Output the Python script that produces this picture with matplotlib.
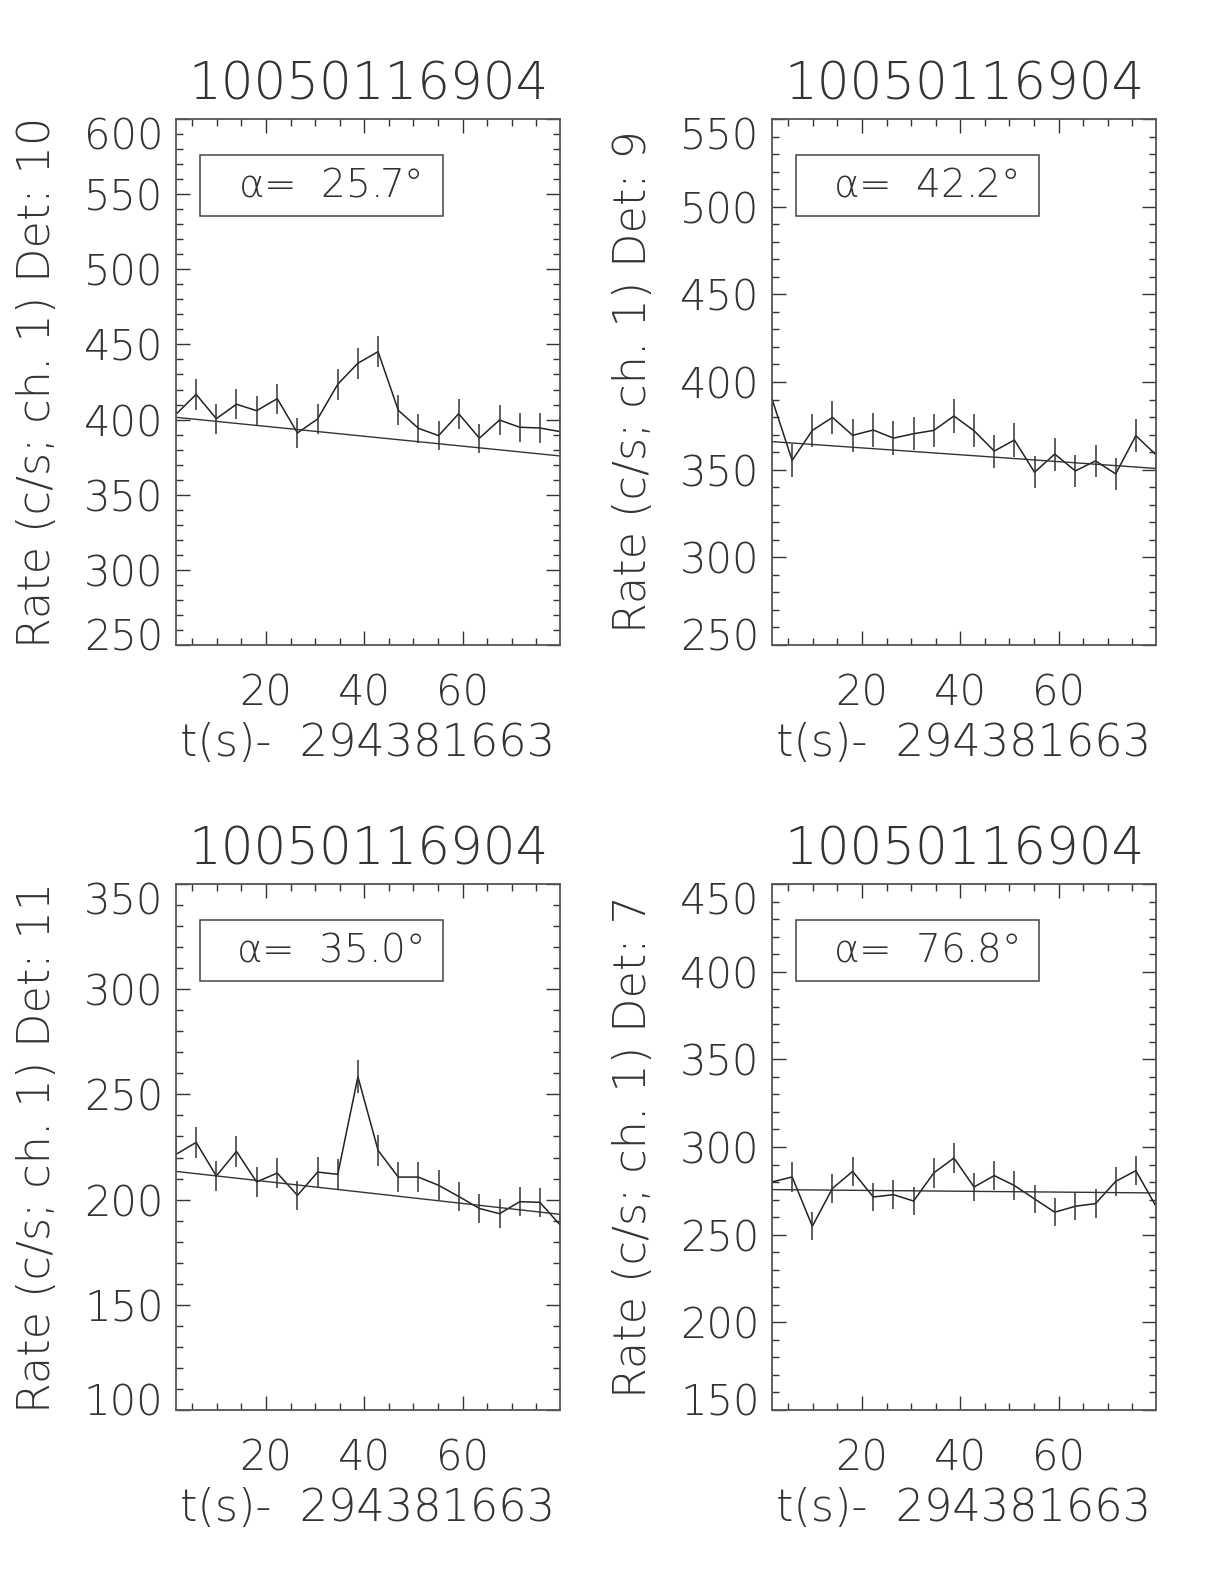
import matplotlib
matplotlib.use("Agg")
import matplotlib.pyplot as plt
from matplotlib.patches import Rectangle
from matplotlib.ticker import MultipleLocator
from matplotlib.transforms import ScaledTranslation

plt.rcParams['font.family'] = ['DejaVu Sans']
plt.rcParams['font.weight'] = 'ultralight'
plt.rcParams['axes.titleweight'] = 'ultralight'
plt.rcParams['axes.labelweight'] = 'ultralight'
plt.rcParams['mathtext.fontset'] = 'custom'
plt.rcParams['mathtext.it'] = 'DejaVu Sans:ultralight'
plt.rcParams['mathtext.rm'] = 'DejaVu Sans:ultralight'

# tiempo de cada bin (s desde 294381663)
t = [1.7, 5.8, 9.9, 14.0, 18.1, 22.3, 26.4, 30.5, 34.6, 38.7,
     42.8, 46.9, 51.0, 55.1, 59.2, 63.4, 67.5, 71.6, 75.7, 79.8]

title = '10050116904'
xlabel = 't(s)-  294381663'

# detector 10
rate_d10 = [403.5, 416.8, 400.6, 410.2, 405.9, 413.9, 391.1, 400.4, 423.5, 437.5,
            445.2, 406.2, 394.2, 389.3, 403.9, 387.6, 399.7, 394.9, 394.4, 392.0]
err_d10 = [9.9, 10.1, 9.9, 10.0, 9.9, 10.0, 9.8, 9.9, 10.2, 10.3,
           10.4, 9.9, 9.8, 9.7, 9.9, 9.7, 9.9, 9.8, 9.8, 9.8]
bkg_d10 = [401.5, 375.8]

# detector 9
rate_d9 = [390.3, 355.3, 372.4, 379.8, 369.6, 372.6, 368.0, 370.5, 372.4, 380.6,
           372.2, 360.6, 366.9, 348.5, 358.9, 349.3, 355.0, 347.6, 369.4, 358.5]
err_d9 = [9.7, 9.3, 9.5, 9.6, 9.5, 9.5, 9.5, 9.5, 9.5, 9.6,
          9.5, 9.4, 9.5, 9.2, 9.4, 9.2, 9.3, 9.2, 9.5, 9.3]
bkg_d9 = [366.0, 350.7]

# detector 11
rate_d11 = [221.5, 227.2, 211.2, 222.9, 208.4, 212.6, 202.0, 213.1, 212.0, 258.4,
            223.4, 210.7, 210.7, 206.8, 201.5, 195.8, 193.3, 199.0, 198.7, 188.0]
err_d11 = [7.3, 7.4, 7.2, 7.4, 7.1, 7.2, 7.0, 7.2, 7.2, 7.9,
           7.4, 7.2, 7.2, 7.1, 7.0, 6.9, 6.9, 7.0, 7.0, 6.8]
bkg_d11 = [213.4, 193.0]

# detector 7
rate_d7 = [280.1, 282.9, 254.8, 276.4, 286.1, 271.5, 272.8, 269.2, 285.2, 293.7,
           277.2, 283.7, 278.0, 270.4, 262.8, 266.2, 267.7, 280.4, 286.5, 266.2]
err_d7 = [8.3, 8.3, 7.9, 8.2, 8.3, 8.1, 8.2, 8.1, 8.3, 8.5,
          8.2, 8.3, 8.2, 8.1, 8.0, 8.0, 8.1, 8.3, 8.4, 8.0]
bkg_d7 = [275.7, 273.8]

dets = ['10', '9', '11', '7']
angles = ['25.7', '42.2', '35.0', '76.8']
ylims = [(250, 600), (250, 550), (100, 350), (150, 450)]
rates = [rate_d10, rate_d9, rate_d11, rate_d7]
errs = [err_d10, err_d9, err_d11, err_d7]
bkgs = [bkg_d10, bkg_d9, bkg_d11, bkg_d7]

W, H = 1224, 1584
posiciones = [(176, 119), (772, 119), (176, 884), (772, 884)]
ancho, alto = 384, 526

fig = plt.figure(figsize=(W / 100, H / 100), dpi=100)
col = '#333333'

for k in range(4):
    x0, y0 = posiciones[k]
    ax = fig.add_axes([x0 / W, 1 - (y0 + alto) / H, ancho / W, alto / H])
    ax.plot(t, rates[k], color='#222222', lw=1.1)
    ax.errorbar(t, rates[k], yerr=errs[k], fmt='none', ecolor='#333333', elinewidth=1.1, capsize=0)
    ax.plot([t[0], t[-1]], bkgs[k], color='#333333', lw=1.0)
    ax.set_xlim(t[0], t[-1])
    ax.set_ylim(ylims[k])
    ax.set_xticks([20, 40, 60])
    ax.xaxis.set_minor_locator(MultipleLocator(5))
    ax.set_yticks(list(range(ylims[k][0], ylims[k][1] + 1, 50)))
    ax.yaxis.set_minor_locator(MultipleLocator(10))
    ax.tick_params(which='both', direction='in', top=True, right=True, colors=col, labelcolor=col)
    ax.tick_params(which='major', length=10, width=1.0, labelsize=30)
    ax.tick_params(which='minor', length=5, width=1.0)
    ax.tick_params(axis='x', which='major', pad=20)
    ax.tick_params(axis='y', which='major', pad=9)
    # etiquetas de los extremos desplazadas hacia dentro, como en IDL
    yt = ax.yaxis.get_major_ticks()
    yt[0].label1.set_transform(yt[0].label1.get_transform() + ScaledTranslation(0, 0.11, fig.dpi_scale_trans))
    yt[-1].label1.set_transform(yt[-1].label1.get_transform() + ScaledTranslation(0, -0.14, fig.dpi_scale_trans))
    for s in ax.spines.values():
        s.set_color('#555555')
        s.set_linewidth(1.3)
    ax.set_title(title, fontsize=37, color=col, pad=14)
    ax.set_xlabel(xlabel, fontsize=32, color=col, labelpad=6)
    ax.set_ylabel('Rate (c/s; ch. 1) Det: ' + dets[k], fontsize=32, color=col, labelpad=18)
    ax.add_patch(Rectangle((0.062, 0.816), 0.634, 0.116, transform=ax.transAxes,
                           fill=False, edgecolor='#444444', lw=1.1))
    ax.text(0.40, 0.874, r'$\alpha$=  ' + angles[k] + '°', transform=ax.transAxes,
            ha='center', va='center', fontsize=28, color=col)

fig.savefig('out.png', dpi=100)
